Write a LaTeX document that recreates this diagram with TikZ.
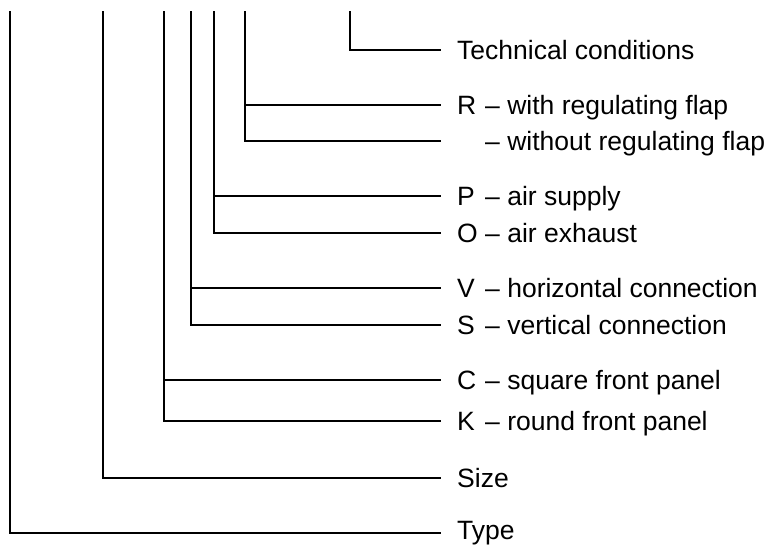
\documentclass[tikz,border=0pt]{standalone}
\usepackage{fontspec}
\setmainfont{Liberation Sans}

\newcommand\code[1]{\makebox[28pt][l]{#1}}

\begin{document}
\begin{tikzpicture}[x=1pt, y=-1pt, line width=2.4pt,
        entry/.style={anchor=west, inner xsep=15pt, inner ysep=0pt,
                text height=19pt, text depth=0pt,
                font=\fontsize{26.5}{31}\selectfont}]
        \useasboundingbox (0, 0) rectangle (771, 546);
        % labels on the right
        \node[entry] (tc)   at (441, 50)  {Technical conditions};
        \node[entry] (r)    at (441, 105) {\code{R}– with regulating flap};
        \node[entry] (wo)   at (441, 141) {\code{}– without regulating flap};
        \node[entry] (p)    at (441, 196) {\code{P}– air supply};
        \node[entry] (o)    at (441, 233) {\code{O}– air exhaust};
        \node[entry] (v)    at (441, 288) {\code{V}– horizontal connection};
        \node[entry] (s)    at (441, 325) {\code{S}– vertical connection};
        \node[entry] (c)    at (441, 380) {\code{C}– square front panel};
        \node[entry] (k)    at (441, 421) {\code{K}– round front panel};
        \node[entry] (size) at (441, 478) {Size};
        \node[entry, text height=13pt] (type) at (441, 533) {Type};
        % tops of the vertical lines
        \coordinate (type top)  at (10, 11);
        \coordinate (size top)  at (103, 11);
        \coordinate (panel top) at (164, 11);
        \coordinate (conn top)  at (191, 11);
        \coordinate (air top)   at (214, 11);
        \coordinate (flap top)  at (245, 11);
        \coordinate (tc top)    at (350, 11);
        % connectors
        \draw (tc top) |- (tc.west);
        \draw (flap top) |- (wo.west);
        \draw (flap top |- r.west) -- (r.west);
        \draw (air top) |- (o.west);
        \draw (air top |- p.west) -- (p.west);
        \draw (conn top) |- (s.west);
        \draw (conn top |- v.west) -- (v.west);
        \draw (panel top) |- (k.west);
        \draw (panel top |- c.west) -- (c.west);
        \draw (size top) |- (size.west);
        \draw (type top) |- (type.west);
\end{tikzpicture}
\end{document}
